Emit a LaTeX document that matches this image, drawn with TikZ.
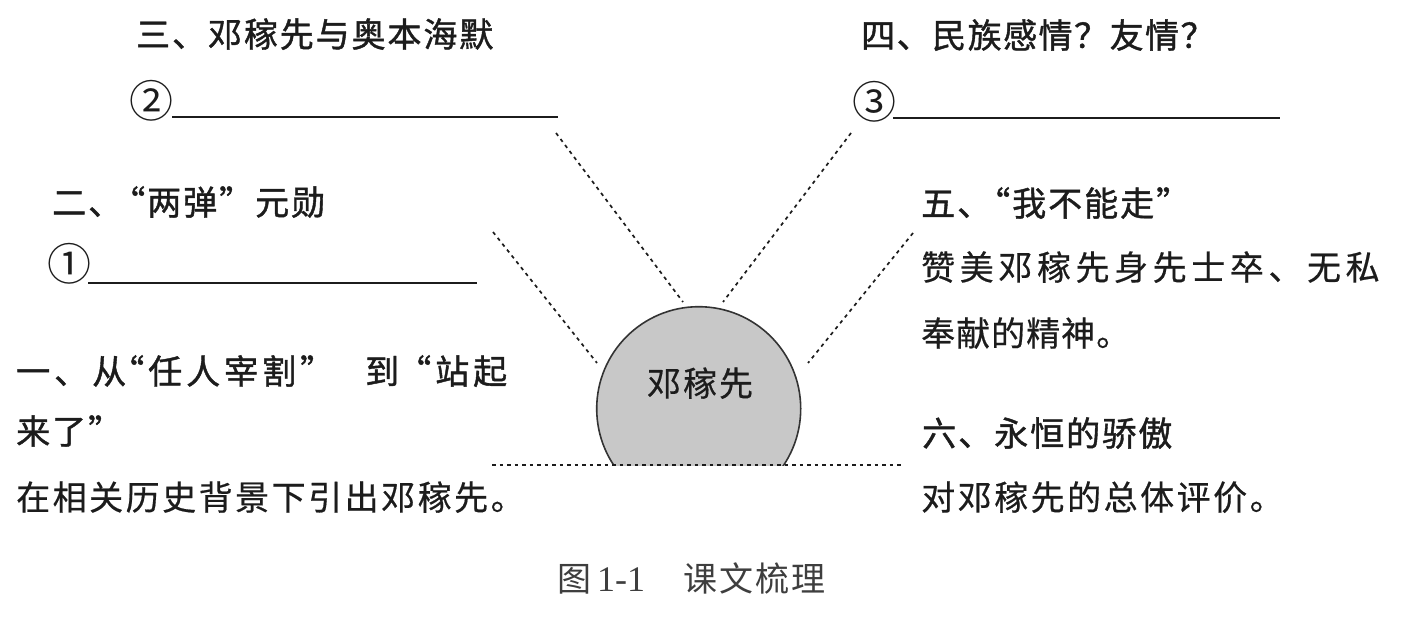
\documentclass[tikz,border=0pt]{standalone}
\usepackage{fontspec}
\setmainfont{Liberation Serif}
\newfontfamily\cjkh[FakeBold=1.2]{Noto Sans CJK SC}
\newfontfamily\cjkb[FakeBold=0.5]{Noto Sans CJK SC}
\newfontfamily\cjkcap{Noto Sans CJK SC}
\newcommand\trk[1]{\addfontfeature{LetterSpace=#1}}
\definecolor{ink}{HTML}{1C1C1C}
\definecolor{ballfill}{HTML}{C8C8C8}
\tikzset{
  txtbase/.style={anchor=west, inner sep=0pt, text=ink, text height=26pt, text depth=0pt},
  head/.style={txtbase, font=\cjkh\fontsize{34}{34}\selectfont},
  body/.style={txtbase, font=\cjkb\fontsize{34}{34}\selectfont},
  circnum/.style={anchor=center, inner sep=0pt, text=ink, font=\cjkcap\fontsize{44}{44}\selectfont},
  blank/.style={draw=ink, line width=1.7pt},
  dotline/.style={draw=ink, dash pattern=on 3.5pt off 4pt, line width=1.7pt},
}
\begin{document}
\begin{tikzpicture}[x=1pt,y=-1pt]
\useasboundingbox (0,0) rectangle (1412,618);
% ball
\begin{scope}
  \clip (0,0) rectangle (1412,465);
  \node[circle, draw=ink!90, line width=1.6pt, fill=ballfill, minimum size=204pt, inner sep=0pt] (ball) at (698.7,408.7) {};
\end{scope}
\node[body, anchor=center] (name) at (700,383) {\trk{5.9}邓稼先};
% base line
\coordinate (baseL) at (492,465);
\coordinate (baseR) at (903,465);
\draw[dotline] (baseL) -- (baseR);
% left block
\node[head] (t3) at (136,34) {\trk{5.6}三、邓稼先与奥本海默};
\node[circnum] (n2) at (151.5,101) {②};
\coordinate (b2a) at (172,117);
\coordinate (b2b) at (558,117);
\draw[blank] (b2a) -- (b2b);
\node[head] (t2) at (52,202) {\trk{5.9}二、\kern-11pt“两弹”元勋};
\node[circnum] (n1) at (69.5,264) {①};
\coordinate (b1a) at (88,283);
\coordinate (b1b) at (477,283);
\draw[blank] (b1a) -- (b1b);
\node[head] (t1a) at (16,371) {\trk{11.76}一、从\kern-16pt“任人宰割”\kern31pt到\kern-2pt“站起};
\node[head] (t1b) at (16,431) {\trk{5.9}来了”};
\node[body] (d1) at (16,497) {\trk{7.35}在相关历史背景下引出邓稼先。};
% right block
\node[head] (t4) at (861,35) {\trk{4.4}四、民族感情？友情？};
\node[circnum] (n3) at (874.5,102) {③};
\coordinate (b3a) at (893,118);
\coordinate (b3b) at (1280,118);
\draw[blank] (b3a) -- (b3b);
\node[head] (t5) at (921,203) {\trk{5.9}五、\kern-15pt“我不能走”};
\node[body] (d5a) at (921,267) {\trk{13.5}赞美邓稼先身先士卒、无私};
\node[body] (d5b) at (921,333) {\trk{2.94}奉献的精神。};
\node[head] (t6) at (922,433) {\trk{5.9}六、永恒的骄傲};
\node[body] (d6) at (921,497) {\trk{7.35}对邓稼先的总体评价。};
% dotted connectors
\coordinate (c2o) at (493,232);
\coordinate (c2i) at (597,363);
\coordinate (c3o) at (556,133);
\coordinate (c3i) at (683,302);
\coordinate (c4o) at (851,133);
\coordinate (c4i) at (723,302);
\coordinate (c5o) at (913,233);
\coordinate (c5i) at (808,363);
\draw[dotline] (c2o) -- (c2i);
\draw[dotline] (c3o) -- (c3i);
\draw[dotline] (c4o) -- (c4i);
\draw[dotline] (c5o) -- (c5i);
% caption
\node[anchor=west, inner sep=0pt, text=ink!85, text height=26pt, text depth=0pt] (cap) at (557,578)
  {{\cjkcap\fontsize{34}{34}\selectfont 图}\hspace{6pt}{\fontsize{36}{36}\selectfont 1-1}\hspace{38pt}{\cjkcap\fontsize{34}{34}\selectfont\trk{6}课文梳理}};
\end{tikzpicture}
\end{document}
